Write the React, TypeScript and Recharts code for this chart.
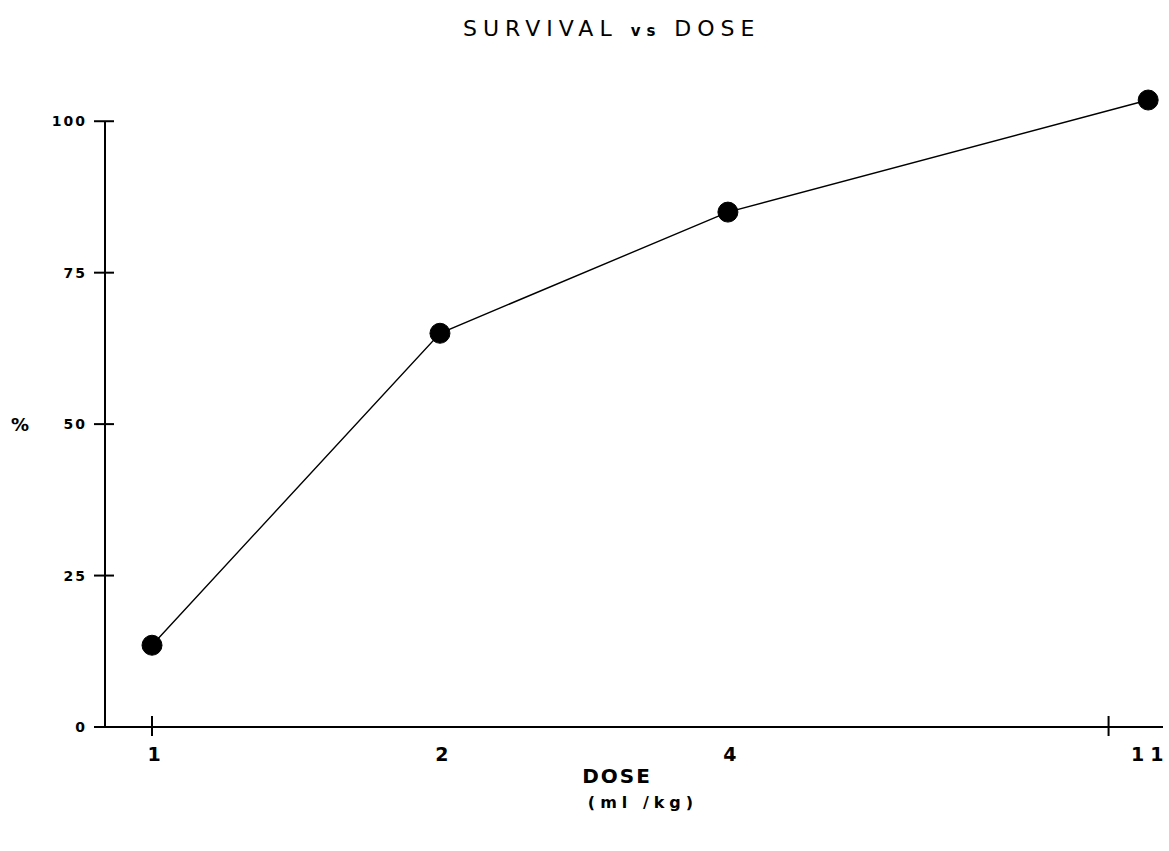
import React from 'react';
import { LineChart, Line, XAxis, YAxis, ReferenceLine } from 'recharts';

const doses = [1, 2, 4, 11];
const survival = [13.5, 65, 85, 103.5];
const yTicks = [0, 25, 50, 75, 100];
const xTickLabels = ['1', '2', '4', '11'];
const xTickMarks = [1, 10];

const data = doses.map((d, i) => ({ dose: d, survival: survival[i] }));
const X_MIN = 0.893;
const X_MAX = 11.4;

const font = '"DejaVu Sans", sans-serif';

const XTick = (props: any) => {
  const { x, y, payload } = props;
  const v = payload.value;
  const idx = doses.indexOf(v);
  return (
    <g>
      {xTickMarks.includes(v) && (
        <line x1={x} x2={x} y1={y - 11} y2={y + 9} stroke="#000" strokeWidth={2} />
      )}
      {idx >= 0 && (
        <text x={x + 2} y={y + 34} textAnchor="middle" fontFamily={font} fontWeight="bold" fontSize={19} letterSpacing={idx === 3 ? 6 : 0} fill="#000">
          {xTickLabels[idx]}
        </text>
      )}
    </g>
  );
};

const YTick = (props: any) => {
  const { x, y, payload } = props;
  return (
    <g>
      <line x1={x - 11} x2={x + 9} y1={y} y2={y} stroke="#000" strokeWidth={2} />
      <text x={x - 18} y={y} dy="0.36em" textAnchor="end" fontFamily={font} fontWeight="bold" fontSize={14} letterSpacing={2} fill="#000">
        {payload.value}
      </text>
    </g>
  );
};

export default function App() {
  return (
    <div style={{ position: 'absolute', left: 0, top: 0, width: 1169, height: 851, background: '#fff', overflow: 'hidden' }}>
      <div style={{ position: 'absolute', left: 463, top: 16, whiteSpace: 'nowrap', fontFamily: font, fontSize: 22, letterSpacing: 6, color: '#000' }}>
        SURVIVAL <span style={{ fontSize: 15, fontWeight: 'bold' }}>vs</span> DOSE
      </div>
      <div style={{ position: 'absolute', left: 11, top: 414, fontFamily: font, fontWeight: 'bold', fontSize: 18, color: '#000' }}>%</div>
      <div style={{ position: 'absolute', left: 517, width: 200, top: 764, textAlign: 'center', fontFamily: font, fontWeight: 'bold', fontSize: 20, letterSpacing: 2, color: '#000' }}>DOSE</div>
      <div style={{ position: 'absolute', left: 543, width: 200, top: 793, textAlign: 'center', fontFamily: font, fontWeight: 'bold', fontSize: 16, letterSpacing: 5, color: '#000' }}>(ml /kg)</div>
      <div style={{ position: 'absolute', left: 0, top: 0 }}>
        <LineChart width={1169} height={851} data={data} margin={{ top: 97, right: 6, bottom: 94, left: 45 }}>
          <XAxis
            dataKey="dose"
            type="number"
            scale="log"
            domain={[X_MIN, X_MAX]}
            ticks={[1, 2, 4, 10, 11]}
            interval={0}
            height={30}
            axisLine={{ stroke: '#000', strokeWidth: 2 }}
            tickLine={false}
            tickSize={0}
            tickMargin={0}
            tick={<XTick />}
          />
          <YAxis
            type="number"
            domain={[0, 104]}
            ticks={yTicks}
            width={60}
            axisLine={false}
            tickLine={false}
            tickSize={0}
            tickMargin={0}
            tick={<YTick />}
          />
          <ReferenceLine segment={[{ x: X_MIN, y: 0 }, { x: X_MIN, y: 100 }]} stroke="#000" strokeWidth={2} ifOverflow="visible" />
          <Line
            type="linear"
            dataKey="survival"
            stroke="#000"
            strokeWidth={1.4}
            dot={{ r: 10, fill: '#000', stroke: '#000', strokeWidth: 1 }}
            isAnimationActive={false}
          />
        </LineChart>
      </div>
    </div>
  );
}
